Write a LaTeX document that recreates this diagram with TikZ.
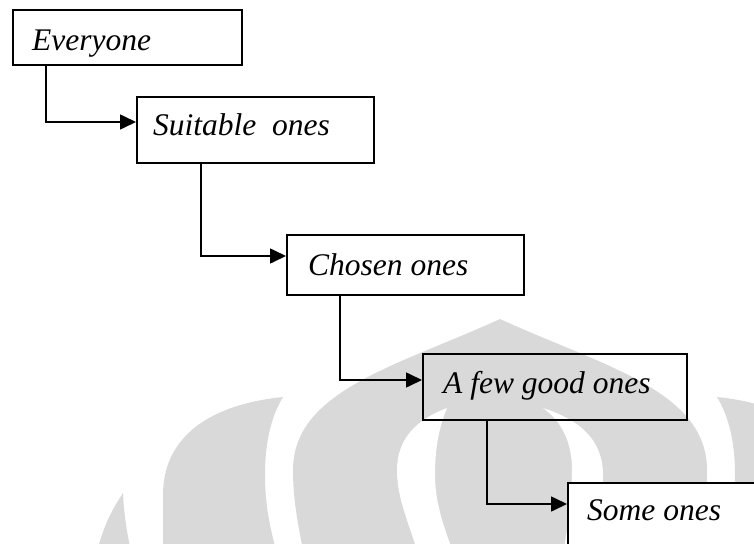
\documentclass[tikz,border=0pt]{standalone}
\usepackage{fontspec}
\setmainfont{Liberation Serif}
\usetikzlibrary{arrows.meta,calc}
\begin{document}
\begin{tikzpicture}[x=1pt,y=-1pt,
  box/.style={draw=black, line width=1.6pt, rectangle, inner sep=0pt, anchor=north west},
  lbl/.style={anchor=base west, inner sep=0pt, font=\fontsize{31.5}{36}\selectfont\itshape},
  conn/.style={line width=1.6pt, -{Triangle[length=16pt,width=15pt]}},
  wm/.style={fill=black!15, draw=none},
  wmhole/.style={fill=white, draw=none}]
\useasboundingbox (0,0) rectangle (754,543);
% watermark
\begin{scope}
\clip (0,0) rectangle (754,543);
\fill[wm] (500,319) .. controls (400,365) and (293,390) .. (293,470)
  .. controls (293,500) and (298,525) .. (305,560) -- (695,560)
  .. controls (702,525) and (707,500) .. (707,470)
  .. controls (707,390) and (600,365) .. (500,319) -- cycle;
\fill[wmhole] (447,408) .. controls (415,420) and (397,440) .. (397,470)
  .. controls (397,500) and (410,525) .. (420,560) -- (456,560)
  .. controls (445,530) and (435,505) .. (435,475)
  .. controls (435,445) and (440,425) .. (447,408) -- cycle;
\fill[wmhole] (543,408) .. controls (580,420) and (603,440) .. (603,475)
  .. controls (603,505) and (595,525) .. (590,560) -- (562,560)
  .. controls (568,525) and (572,500) .. (572,470)
  .. controls (572,440) and (560,420) .. (543,408) -- cycle;
\fill[wm] (283,397) .. controls (205,405) and (163,440) .. (163,495) -- (163,560) -- (279,560)
  .. controls (270,530) and (265,505) .. (265,475)
  .. controls (265,440) and (272,415) .. (283,397) -- cycle;
\fill[wm] (717,397) .. controls (795,405) and (837,440) .. (837,495) -- (837,560) -- (721,560)
  .. controls (730,530) and (735,505) .. (735,475)
  .. controls (735,440) and (728,415) .. (717,397) -- cycle;
\fill[wm] (123,493) .. controls (112,510) and (103,525) .. (95,560) -- (133,560)
  .. controls (127,535) and (124,515) .. (123,493) -- cycle;
\end{scope}
% boxes
\node[box, minimum width=229pt, minimum height=55pt] (e) at (12,9) {};
\node[lbl] (et) at (32,50) {Everyone};
\node[box, minimum width=237pt, minimum height=66pt] (s) at (136,96) {};
\node[lbl] (st) at (153,135) {Suitable\ \ ones};
\node[box, minimum width=237pt, minimum height=60pt] (c) at (286,234) {};
\node[lbl] (ct) at (308,275) {Chosen ones};
\node[box, minimum width=264pt, minimum height=66pt] (f) at (422,353) {};
\node[lbl] (ft) at (443,393) {A few good ones};
\node[box, fill=white, minimum width=240pt, minimum height=80pt] (so) at (567,482) {};
\node[lbl] (sot) at (587,520) {Some ones};
% connectors
\draw[conn] ($(e.south west)+(34,0)$) |- ($(s.north west)+(0,26)$);
\draw[conn] ($(s.south west)+(65,0)$) |- ($(c.north west)+(0,22)$);
\draw[conn] ($(c.south west)+(54,0)$) |- ($(f.north west)+(0,27)$);
\draw[conn] ($(f.south west)+(65,0)$) |- ($(so.north west)+(0,22)$);
\end{tikzpicture}
\end{document}
